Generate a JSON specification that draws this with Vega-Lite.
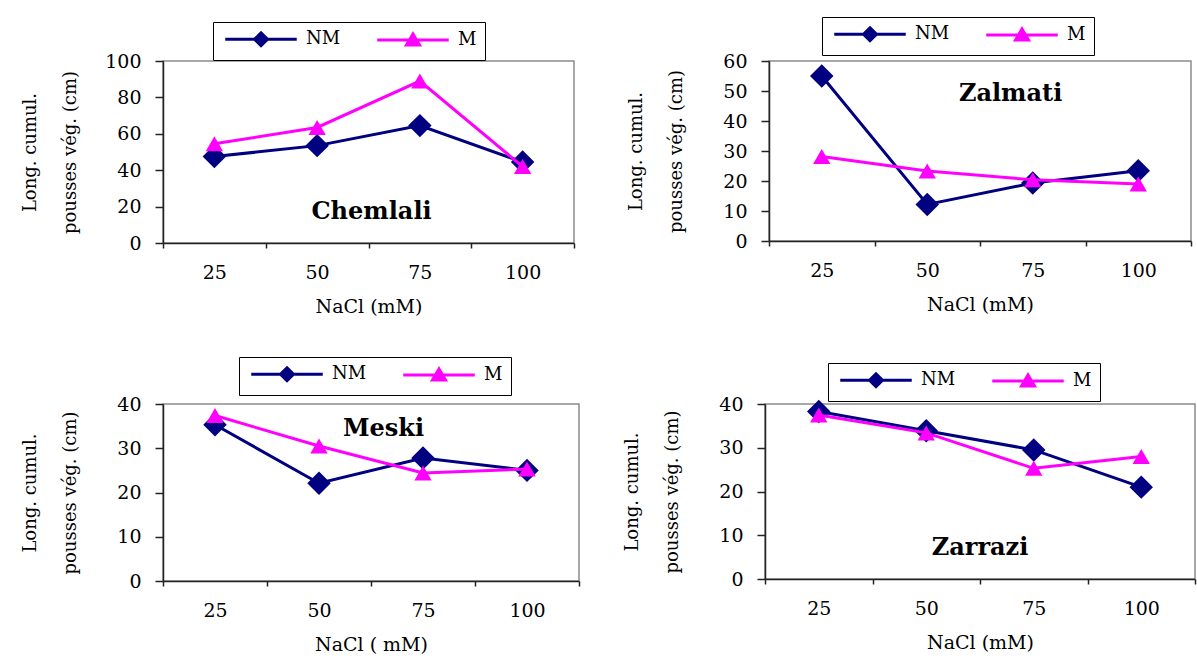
{
  "$schema": "https://vega.github.io/schema/vega-lite/v6.json",
  "background": "white",
  "padding": {"left": 20, "top": 15, "right": 5, "bottom": 5},
  "datasets": {
    "d": [
      {"cultivar": "Chemlali", "series": "NM", "NaCl": 25, "value": 47.5},
      {"cultivar": "Chemlali", "series": "NM", "NaCl": 50, "value": 53.5},
      {"cultivar": "Chemlali", "series": "NM", "NaCl": 75, "value": 64.5},
      {"cultivar": "Chemlali", "series": "NM", "NaCl": 100, "value": 44.5},
      {"cultivar": "Chemlali", "series": "M", "NaCl": 25, "value": 54.5},
      {"cultivar": "Chemlali", "series": "M", "NaCl": 50, "value": 63.5},
      {"cultivar": "Chemlali", "series": "M", "NaCl": 75, "value": 89},
      {"cultivar": "Chemlali", "series": "M", "NaCl": 100, "value": 42},
      {"cultivar": "Zalmati", "series": "NM", "NaCl": 25, "value": 55},
      {"cultivar": "Zalmati", "series": "NM", "NaCl": 50, "value": 12.2},
      {"cultivar": "Zalmati", "series": "NM", "NaCl": 75, "value": 19.3},
      {"cultivar": "Zalmati", "series": "NM", "NaCl": 100, "value": 23.4},
      {"cultivar": "Zalmati", "series": "M", "NaCl": 25, "value": 28.2},
      {"cultivar": "Zalmati", "series": "M", "NaCl": 50, "value": 23.3},
      {"cultivar": "Zalmati", "series": "M", "NaCl": 75, "value": 20.4},
      {"cultivar": "Zalmati", "series": "M", "NaCl": 100, "value": 19.0},
      {"cultivar": "Meski", "series": "NM", "NaCl": 25, "value": 35.3},
      {"cultivar": "Meski", "series": "NM", "NaCl": 50, "value": 22.1},
      {"cultivar": "Meski", "series": "NM", "NaCl": 75, "value": 27.8},
      {"cultivar": "Meski", "series": "NM", "NaCl": 100, "value": 25.0},
      {"cultivar": "Meski", "series": "M", "NaCl": 25, "value": 37.4},
      {"cultivar": "Meski", "series": "M", "NaCl": 50, "value": 30.5},
      {"cultivar": "Meski", "series": "M", "NaCl": 75, "value": 24.4},
      {"cultivar": "Meski", "series": "M", "NaCl": 100, "value": 25.3},
      {"cultivar": "Zarrazi", "series": "NM", "NaCl": 25, "value": 38.3},
      {"cultivar": "Zarrazi", "series": "NM", "NaCl": 50, "value": 33.9},
      {"cultivar": "Zarrazi", "series": "NM", "NaCl": 75, "value": 29.5},
      {"cultivar": "Zarrazi", "series": "NM", "NaCl": 100, "value": 21.0},
      {"cultivar": "Zarrazi", "series": "M", "NaCl": 25, "value": 37.5},
      {"cultivar": "Zarrazi", "series": "M", "NaCl": 50, "value": 33.4},
      {"cultivar": "Zarrazi", "series": "M", "NaCl": 75, "value": 25.3},
      {"cultivar": "Zarrazi", "series": "M", "NaCl": 100, "value": 28.0}
    ]
  },
  "bounds": "flush",
  "spacing": 343,
  "resolve": {"scale": {"color": "independent"}, "legend": {"color": "independent"}},
  "vconcat": [
    {
      "bounds": "flush",
      "spacing": 195,
      "resolve": {"scale": {"color": "independent"}, "legend": {"color": "independent"}},
      "hconcat": [
        {
          "width": 411, "height": 182,
          "data": {"name": "d"},
          "transform": [{"filter": "datum.cultivar === 'Chemlali'"}],
          "encoding": {
            "x": {"field": "NaCl", "type": "ordinal", "scale": {"type": "band", "paddingInner": 0, "paddingOuter": 0}, "axis": {"title": "NaCl (mM)"}},
            "y": {"field": "value", "type": "quantitative", "scale": {"domain": [0, 100], "nice": false}, "axis": {"values": [0, 20, 40, 60, 80, 100], "title": ["Long. cumul.", "pousses vég. (cm)"], "titleX": -124, "titleY": 91}}
          },
          "layer": [
            {
              "transform": [{"filter": "datum.series === 'NM'"}],
              "mark": {"type": "line", "strokeWidth": 3, "point": {"shape": "diamond", "size": 550, "filled": true}},
              "encoding": {"color": {"field": "series", "type": "nominal", "scale": {"domain": ["NM", "M"], "range": ["#000080", "#ff00ff"]},
                "legend": {"legendX": 50, "legendY": -39, "encode": {"symbols": {"update": {
                  "shape": {"signal": "datum.value === 'NM' ? 'M-5.5,0H5.5M0,-1L1,0L0,1L-1,0Z' : 'M-5.5,0H5.5M0,-0.9L1,0.8H-1Z'"},
                  "fill": {"signal": "datum.value === 'NM' ? '#000080' : '#ff00ff'"},
                  "stroke": {"signal": "datum.value === 'NM' ? '#000080' : '#ff00ff'"},
                  "strokeWidth": {"value": 3}, "size": {"value": 169}, "opacity": {"value": 1}}}}}}}
            },
            {
              "transform": [{"filter": "datum.series === 'M'"}],
              "mark": {"type": "line", "strokeWidth": 3, "point": {"shape": "triangle-up", "size": 300, "filled": true}},
              "encoding": {"color": {"field": "series", "type": "nominal"}}
            },
            {
              "transform": [{"filter": "datum.series === 'NM' && datum.NaCl === 25"}],
              "mark": {"type": "text", "font": "DejaVu Serif", "fontWeight": "bold", "fontSize": 24, "color": "#000"},
              "encoding": {"x": {"datum": 75, "type": "ordinal", "bandPosition": 0.03}, "y": {"datum": 17, "type": "quantitative"}, "text": {"field": "cultivar"}}
            }
          ]
        },
        {
          "width": 422, "height": 180,
          "data": {"name": "d"},
          "transform": [{"filter": "datum.cultivar === 'Zalmati'"}],
          "encoding": {
            "x": {"field": "NaCl", "type": "ordinal", "scale": {"type": "band", "paddingInner": 0, "paddingOuter": 0}, "axis": {"title": "NaCl (mM)"}},
            "y": {"field": "value", "type": "quantitative", "scale": {"domain": [0, 60], "nice": false}, "axis": {"values": [0, 10, 20, 30, 40, 50, 60], "title": ["Long. cumul.", "pousses vég. (cm)"], "titleX": -124, "titleY": 90}}
          },
          "layer": [
            {
              "transform": [{"filter": "datum.series === 'NM'"}],
              "mark": {"type": "line", "strokeWidth": 3, "point": {"shape": "diamond", "size": 550, "filled": true}},
              "encoding": {"color": {"field": "series", "type": "nominal", "scale": {"domain": ["NM", "M"], "range": ["#000080", "#ff00ff"]},
                "legend": {"legendX": 53, "legendY": -44, "encode": {"symbols": {"update": {
                  "shape": {"signal": "datum.value === 'NM' ? 'M-5.5,0H5.5M0,-1L1,0L0,1L-1,0Z' : 'M-5.5,0H5.5M0,-0.9L1,0.8H-1Z'"},
                  "fill": {"signal": "datum.value === 'NM' ? '#000080' : '#ff00ff'"},
                  "stroke": {"signal": "datum.value === 'NM' ? '#000080' : '#ff00ff'"},
                  "strokeWidth": {"value": 3}, "size": {"value": 169}, "opacity": {"value": 1}}}}}}}
            },
            {
              "transform": [{"filter": "datum.series === 'M'"}],
              "mark": {"type": "line", "strokeWidth": 3, "point": {"shape": "triangle-up", "size": 300, "filled": true}},
              "encoding": {"color": {"field": "series", "type": "nominal"}}
            },
            {
              "transform": [{"filter": "datum.series === 'NM' && datum.NaCl === 25"}],
              "mark": {"type": "text", "font": "DejaVu Serif", "fontWeight": "bold", "fontSize": 24, "color": "#000"},
              "encoding": {"x": {"datum": 75, "type": "ordinal", "bandPosition": 0.29}, "y": {"datum": 48.9, "type": "quantitative"}, "text": {"field": "cultivar"}}
            }
          ]
        }
      ]
    },
    {
      "bounds": "flush",
      "spacing": 186,
      "resolve": {"scale": {"color": "independent"}, "legend": {"color": "independent"}},
      "hconcat": [
        {
          "width": 416, "height": 177,
          "data": {"name": "d"},
          "transform": [{"filter": "datum.cultivar === 'Meski'"}],
          "encoding": {
            "x": {"field": "NaCl", "type": "ordinal", "scale": {"type": "band", "paddingInner": 0, "paddingOuter": 0}, "axis": {"title": "NaCl ( mM)"}},
            "y": {"field": "value", "type": "quantitative", "scale": {"domain": [0, 40], "nice": false}, "axis": {"values": [0, 10, 20, 30, 40], "title": ["Long. cumul.", "pousses vég. (cm)"], "titleX": -124, "titleY": 88.5}}
          },
          "layer": [
            {
              "transform": [{"filter": "datum.series === 'NM'"}],
              "mark": {"type": "line", "strokeWidth": 3, "point": {"shape": "diamond", "size": 550, "filled": true}},
              "encoding": {"color": {"field": "series", "type": "nominal", "scale": {"domain": ["NM", "M"], "range": ["#000080", "#ff00ff"]},
                "legend": {"legendX": 76, "legendY": -47, "encode": {"symbols": {"update": {
                  "shape": {"signal": "datum.value === 'NM' ? 'M-5.5,0H5.5M0,-1L1,0L0,1L-1,0Z' : 'M-5.5,0H5.5M0,-0.9L1,0.8H-1Z'"},
                  "fill": {"signal": "datum.value === 'NM' ? '#000080' : '#ff00ff'"},
                  "stroke": {"signal": "datum.value === 'NM' ? '#000080' : '#ff00ff'"},
                  "strokeWidth": {"value": 3}, "size": {"value": 169}, "opacity": {"value": 1}}}}}}}
            },
            {
              "transform": [{"filter": "datum.series === 'M'"}],
              "mark": {"type": "line", "strokeWidth": 3, "point": {"shape": "triangle-up", "size": 300, "filled": true}},
              "encoding": {"color": {"field": "series", "type": "nominal"}}
            },
            {
              "transform": [{"filter": "datum.series === 'NM' && datum.NaCl === 25"}],
              "mark": {"type": "text", "font": "DejaVu Serif", "fontWeight": "bold", "fontSize": 24, "color": "#000"},
              "encoding": {"x": {"datum": 75, "type": "ordinal", "bandPosition": 0.12}, "y": {"datum": 34.4, "type": "quantitative"}, "text": {"field": "cultivar"}}
            }
          ]
        },
        {
          "width": 430, "height": 175,
          "data": {"name": "d"},
          "transform": [{"filter": "datum.cultivar === 'Zarrazi'"}],
          "encoding": {
            "x": {"field": "NaCl", "type": "ordinal", "scale": {"type": "band", "paddingInner": 0, "paddingOuter": 0}, "axis": {"title": "NaCl  (mM)"}},
            "y": {"field": "value", "type": "quantitative", "scale": {"domain": [0, 40], "nice": false}, "axis": {"values": [0, 10, 20, 30, 40], "title": ["Long. cumul.", "pousses vég. (cm)"], "titleX": -124, "titleY": 87.5}}
          },
          "layer": [
            {
              "transform": [{"filter": "datum.series === 'NM'"}],
              "mark": {"type": "line", "strokeWidth": 3, "point": {"shape": "diamond", "size": 550, "filled": true}},
              "encoding": {"color": {"field": "series", "type": "nominal", "scale": {"domain": ["NM", "M"], "range": ["#000080", "#ff00ff"]},
                "legend": {"legendX": 63, "legendY": -41, "encode": {"symbols": {"update": {
                  "shape": {"signal": "datum.value === 'NM' ? 'M-5.5,0H5.5M0,-1L1,0L0,1L-1,0Z' : 'M-5.5,0H5.5M0,-0.9L1,0.8H-1Z'"},
                  "fill": {"signal": "datum.value === 'NM' ? '#000080' : '#ff00ff'"},
                  "stroke": {"signal": "datum.value === 'NM' ? '#000080' : '#ff00ff'"},
                  "strokeWidth": {"value": 3}, "size": {"value": 169}, "opacity": {"value": 1}}}}}}}
            },
            {
              "transform": [{"filter": "datum.series === 'M'"}],
              "mark": {"type": "line", "strokeWidth": 3, "point": {"shape": "triangle-up", "size": 300, "filled": true}},
              "encoding": {"color": {"field": "series", "type": "nominal"}}
            },
            {
              "transform": [{"filter": "datum.series === 'NM' && datum.NaCl === 25"}],
              "mark": {"type": "text", "font": "DejaVu Serif", "fontWeight": "bold", "fontSize": 24, "color": "#000"},
              "encoding": {"x": {"datum": 75, "type": "ordinal", "bandPosition": 0}, "y": {"datum": 7, "type": "quantitative"}, "text": {"field": "cultivar"}}
            }
          ]
        }
      ]
    }
  ],
  "config": {
    "font": "DejaVu Serif",
    "view": {"stroke": "#8c8c8c", "strokeWidth": 1.5},
    "axis": {
      "grid": false,
      "domainColor": "#222", "domainWidth": 1.5,
      "tickColor": "#222", "tickWidth": 1.5,
      "labelFont": "DejaVu Serif", "labelFontSize": 19, "labelColor": "#000",
      "titleFont": "DejaVu Serif", "titleFontSize": 19, "titleFontWeight": "normal", "titleColor": "#000"
    },
    "axisX": {"tickBand": "extent", "tickSize": 5, "labelPadding": 15, "titlePadding": 15, "labelAngle": 0},
    "axisY": {"tickSize": 8, "labelPadding": 14, "titleFontSize": 18, "titleLineHeight": 40, "titleAngle": 270, "titleAlign": "center", "titleBaseline": "bottom"},
    "legend": {
      "orient": "none",
      "direction": "horizontal",
      "title": null,
      "strokeColor": "#000",
      "fillColor": "#fff",
      "padding": 8,
      "labelFont": "DejaVu Serif", "labelFontSize": 18, "labelColor": "#000",
      "symbolSize": 169,
      "symbolStrokeWidth": 3,
      "symbolOffset": 31,
      "labelOffset": 36,
      "columnPadding": 30
    }
  }
}
